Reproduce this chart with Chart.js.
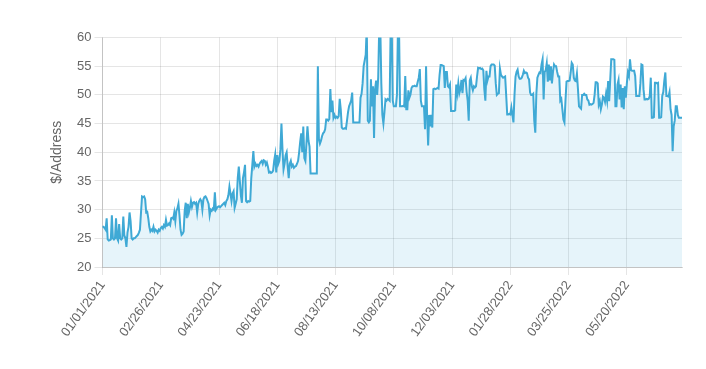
<!DOCTYPE html>
<html><head><meta charset="utf-8">
<script src="https://cdn.jsdelivr.net/npm/chart.js@4.4.0/dist/chart.umd.min.js"></script>
<style>html,body{margin:0;padding:0;background:#fff;}#wrap{width:706px;height:369px;}</style>
</head><body><div id="wrap"><canvas id="c" width="706" height="369"></canvas></div>
<script>
// Categories: one per day starting 01/01/2021
const startYear = 2021, startMonth = 0, startDay = 1;
// Series: $/Address per day
const dollarsPerAddress = [
27.0,27.0,26.8,26.5,28.5,24.8,24.6,24.7,24.8,29.0,
25.0,24.8,25.0,28.5,25.0,24.6,27.5,25.0,24.8,25.0,
28.8,25.5,25.0,23.5,26.0,27.0,29.5,28.0,25.0,24.8,
25.0,25.0,25.2,25.4,25.6,26.0,26.5,29.5,32.3,32.2,
32.3,31.8,29.5,29.6,28.5,27.0,26.2,26.5,26.3,27.0,
26.2,26.5,26.3,26.0,26.5,26.3,26.8,27.0,26.7,27.3,
27.0,28.2,27.2,27.3,27.6,27.3,28.5,28.6,28.4,29.5,
28.0,29.8,30.2,31.0,29.0,26.5,25.6,25.8,26.2,29.8,
31.2,28.5,31.0,29.5,30.3,31.5,30.5,31.2,31.3,31.0,
31.2,29.5,31.0,31.5,31.8,31.5,30.0,31.8,32.2,32.3,
32.0,31.5,31.0,29.0,30.0,29.8,30.2,30.0,33.0,30.0,
30.3,30.5,30.6,30.4,30.6,30.8,31.0,31.2,30.8,31.5,
31.8,32.5,34.0,32.8,31.5,32.8,33.2,30.3,31.0,31.8,
35.5,37.5,35.0,32.5,31.2,35.5,36.5,37.8,31.5,31.3,
31.5,31.4,31.5,35.5,37.8,40.2,37.5,38.0,37.6,37.8,
37.5,38.0,38.3,38.5,38.0,38.6,38.5,37.8,38.2,37.5,
36.5,36.6,36.4,36.5,36.8,38.5,39.6,36.5,39.5,38.0,
38.5,40.5,45.0,40.5,37.0,38.0,39.5,40.0,37.5,35.5,
38.0,38.5,37.5,37.8,37.3,37.5,37.6,38.0,38.5,40.0,
41.8,43.3,40.0,44.5,39.0,38.5,41.5,44.5,42.0,41.0,
36.3,36.3,36.3,36.3,36.3,36.3,36.3,55.0,42.3,41.5,
42.0,42.8,43.3,43.5,44.0,45.7,45.7,45.5,45.8,51.0,
47.0,49.0,46.0,46.5,46.0,46.2,46.0,46.3,49.3,47.5,
44.3,44.1,44.1,44.2,44.1,45.5,47.0,48.0,48.5,49.0,
50.4,45.2,45.2,45.2,45.2,45.2,45.2,45.2,49.5,50.2,
52.0,55.0,56.0,57.0,62.0,45.5,45.2,45.5,52.7,48.0,
51.5,42.5,51.0,52.5,50.0,53.0,62.0,62.0,52.0,46.5,
45.0,47.0,49.2,49.0,49.3,49.2,49.0,62.0,62.0,49.0,
48.0,48.0,48.0,50.0,62.0,62.0,48.0,48.0,48.0,48.1,
48.0,53.3,47.5,47.5,50.8,49.5,50.0,51.2,51.5,51.5,
51.6,51.5,51.5,52.3,53.0,54.5,49.0,48.0,48.0,48.0,
44.0,55.0,46.5,41.2,46.5,44.5,46.5,44.3,51.0,51.1,
51.0,51.1,51.2,51.1,53.5,55.2,55.2,55.1,55.0,51.2,
54.0,54.0,51.5,51.3,51.8,47.2,47.2,47.2,47.2,47.3,
51.8,50.3,52.0,50.3,51.0,52.6,50.3,52.6,52.5,52.9,
50.5,49.0,45.5,52.5,53.0,51.5,50.8,51.5,51.3,51.5,
53.2,54.7,54.6,54.7,54.5,54.6,54.3,51.0,49.0,54.2,
52.5,53.2,53.2,55.0,55.3,55.3,55.3,55.1,52.0,50.0,
50.2,50.3,54.6,53.5,53.2,53.0,53.1,53.2,50.0,46.6,
46.6,46.7,46.6,47.8,46.5,45.2,50.0,53.2,54.0,54.4,
53.2,52.8,52.8,53.0,53.5,54.2,53.8,53.9,53.8,53.0,
52.7,50.4,50.0,50.0,50.2,45.5,43.4,50.2,53.0,53.5,
53.9,53.8,55.3,56.2,49.2,54.0,54.3,55.5,52.3,55.3,
52.5,55.0,52.0,54.0,55.3,55.0,55.0,54.0,53.2,53.2,
49.0,49.3,47.5,45.7,45.2,49.0,52.3,52.4,52.4,52.5,
53.9,55.6,55.3,53.0,52.5,52.4,53.7,51.0,48.0,47.8,
47.6,50.0,50.0,50.2,50.0,50.0,49.2,49.0,48.3,48.4,
48.3,48.4,48.6,50.0,52.2,52.2,52.0,48.3,48.9,47.5,
48.3,49.7,49.5,48.8,50.2,49.0,52.4,48.9,52.6,56.2,
56.2,56.2,56.1,48.0,48.0,51.8,52.6,49.2,51.8,47.8,
51.2,47.5,51.5,49.5,52.0,53.9,53.3,56.2,54.3,54.2,
54.2,54.2,53.3,49.8,49.8,49.8,49.8,52.0,55.3,55.2,
51.0,49.2,49.2,49.3,49.2,49.3,49.8,53.0,46.0,46.0,
46.1,52.1,52.1,52.0,52.1,46.0,46.0,46.1,49.8,50.5,
52.5,53.9,49.8,49.8,49.7,50.5,47.5,46.5,40.2,44.5,
45.5,48.0,48.0,46.5,46.0,46.0,46.0,46.0
];
// Tick settings
const xTickEvery = 56;          // one date label every 56 days
const yMin = 20, yMax = 60, yStep = 5;
const yTitle = '$/Address';

function pad(n){ return (n < 10 ? '0' : '') + n; }
const dates = dollarsPerAddress.map((_, i) => {
  const d = new Date(Date.UTC(startYear, startMonth, startDay + i));
  return pad(d.getUTCMonth() + 1) + '/' + pad(d.getUTCDate()) + '/' + d.getUTCFullYear();
});

const FONT = "'Liberation Sans', Arial, Helvetica, sans-serif";
new Chart(document.getElementById('c'), {
  type: 'line',
  data: {
    labels: dates,
    datasets: [{
      data: dollarsPerAddress,
      borderColor: '#3fa9d5',
      backgroundColor: 'rgba(63,169,213,0.13)',
      fill: 'start',
      borderWidth: 2,
      pointRadius: 0,
      tension: 0
    }]
  },
  options: {
    responsive: false,
    animation: false,
    layout: { padding: { left: 44.5, right: 24, top: 37.5, bottom: 0 } },
    plugins: { legend: { display: false }, tooltip: { enabled: false } },
    scales: {
      x: {
        type: 'category',
        afterFit: function (s) { s.height = 102; },
        grid: { color: 'rgba(0,0,0,0.1)', tickLength: 8 },
        border: { color: 'rgba(0,0,0,0.15)' },
        ticks: {
          autoSkip: false, minRotation: 54, maxRotation: 54,
          color: '#666', font: { family: FONT, size: 13 },
          callback: function (v, i) { return i % xTickEvery === 0 ? this.getLabelForValue(v) : null; }
        }
      },
      y: {
        min: yMin, max: yMax,
        afterFit: function (s) { s.width = 58; },
        grid: { color: 'rgba(0,0,0,0.1)', tickLength: 8 },
        border: { color: 'rgba(0,0,0,0.15)' },
        ticks: { stepSize: yStep, color: '#666', font: { family: FONT, size: 13 } },
        title: { display: true, text: yTitle, color: '#666', font: { family: FONT, size: 14 }, padding: { top: 4, bottom: 11.5 } }
      }
    }
  }
});
</script>
</body></html>
